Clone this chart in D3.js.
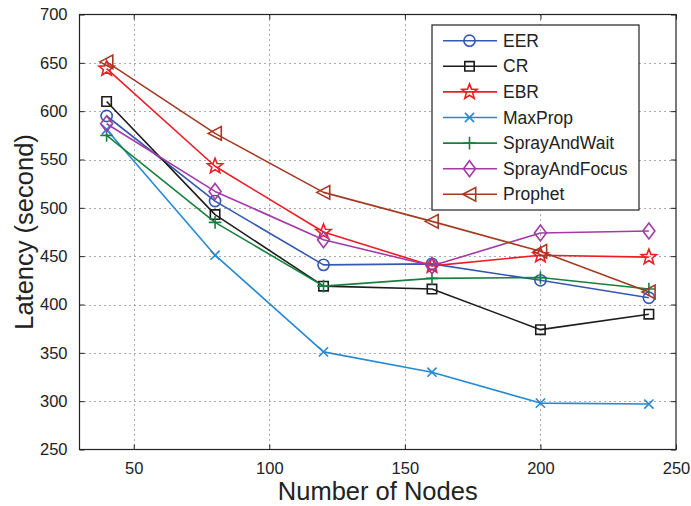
<!DOCTYPE html>
<html>
<head>
<meta charset="utf-8">
<script src="https://cdn.jsdelivr.net/npm/d3@7"></script>
<style>
  html, body { margin: 0; padding: 0; background: #fff; }
  svg { display: block; font-family: "Liberation Sans", Arial, Helvetica, sans-serif; }
</style>
</head>
<body>
<svg id="chart" width="691" height="506"></svg>
<script>
// Latency vs. number of nodes for each routing protocol
const nodes = [40, 80, 120, 160, 200, 240];

const eer           = [595, 507, 441, 442, 425, 407];
const cr            = [610, 493, 419, 416, 374, 390];
const ebr           = [644, 543, 475, 440, 451, 449];
const maxProp       = [581, 451, 351, 330, 298, 297];
const sprayAndWait  = [575, 485, 419, 427, 428, 416];
const sprayAndFocus = [587, 517, 467, 440, 474, 476];
const prophet       = [651, 577, 516, 486, 455, 413];

const xTicks = [50, 100, 150, 200, 250];
const yTicks = [250, 300, 350, 400, 450, 500, 550, 600, 650, 700];

const series = [
  { name: "EER",           values: eer,           color: "#3558b0", marker: "circle" },
  { name: "CR",            values: cr,            color: "#1c1c1c", marker: "square" },
  { name: "EBR",           values: ebr,           color: "#ee1d25", marker: "star" },
  { name: "MaxProp",       values: maxProp,       color: "#2689d2", marker: "times" },
  { name: "SprayAndWait",  values: sprayAndWait,  color: "#17803c", marker: "plus" },
  { name: "SprayAndFocus", values: sprayAndFocus, color: "#a43aa6", marker: "diamond" },
  { name: "Prophet",       values: prophet,       color: "#a33b22", marker: "triangleLeft" }
];

const svg = d3.select("#chart");
const plotL = 79.5, plotR = 676, plotT = 14.5, plotB = 449.5;

const x = d3.scaleLinear().domain([30, 250]).range([plotL, plotR]);
const y = d3.scaleLinear().domain([250, 700]).range([plotB, plotT]);

// dotted grid
const grid = svg.append("g").attr("stroke", "#555").attr("stroke-width", 1)
  .attr("stroke-dasharray", "1,4");
xTicks.filter(t => t > 30 && t < 250).forEach(t => {
  grid.append("line").attr("x1", Math.round(x(t)) + 0.5).attr("x2", Math.round(x(t)) + 0.5)
    .attr("y1", plotT).attr("y2", plotB);
});
yTicks.filter(t => t > 250 && t < 700).forEach(t => {
  grid.append("line").attr("y1", Math.round(y(t)) + 0.5).attr("y2", Math.round(y(t)) + 0.5)
    .attr("x1", plotL).attr("x2", plotR);
});

// axes with inward ticks on all four sides
const tickLen = 5;
const xAxisB = d3.axisBottom(x).tickValues(xTicks).tickSizeInner(-tickLen).tickSizeOuter(0).tickPadding(13);
const xAxisT = d3.axisTop(x).tickValues(xTicks).tickSizeInner(-tickLen).tickSizeOuter(0).tickFormat("");
const yAxisL = d3.axisLeft(y).tickValues(yTicks).tickSizeInner(-tickLen).tickSizeOuter(0).tickPadding(12);
const yAxisR = d3.axisRight(y).tickValues(yTicks).tickSizeInner(-tickLen).tickSizeOuter(0).tickFormat("");

function styleAxis(g) {
  g.select(".domain").remove();
  g.selectAll("line").attr("stroke", "#222");
  g.selectAll("text").attr("fill", "#222").attr("font-size", "16.5px")
    .attr("font-family", "Liberation Sans, Arial, sans-serif");
}
svg.append("g").attr("transform", `translate(0,${plotB})`).call(xAxisB).call(styleAxis);
svg.append("g").attr("transform", `translate(0,${plotT})`).call(xAxisT).call(styleAxis);
svg.append("g").attr("transform", `translate(${plotL},0)`).call(yAxisL).call(styleAxis);
svg.append("g").attr("transform", `translate(${plotR},0)`).call(yAxisR).call(styleAxis);

// frame
svg.append("rect").attr("x", plotL).attr("y", plotT).attr("width", plotR - plotL).attr("height", plotB - plotT)
  .attr("fill", "none").attr("stroke", "#222").attr("stroke-width", 1.2);

// axis titles
svg.append("text").attr("x", (plotL + plotR) / 2).attr("y", 500).attr("text-anchor", "middle")
  .attr("font-size", "25.5px").attr("fill", "#222").text("Number of Nodes");
svg.append("text").attr("transform", `translate(33,${(plotT + plotB) / 2}) rotate(-90)`)
  .attr("text-anchor", "middle").attr("font-size", "25.5px").attr("fill", "#222").text("Latency (second)");

// marker shapes
function starPath(ro, ri) {
  let p = "";
  for (let i = 0; i < 10; i++) {
    const r = i % 2 === 0 ? ro : ri;
    const a = -Math.PI / 2 + i * Math.PI / 5;
    p += (i === 0 ? "M" : "L") + (r * Math.cos(a)).toFixed(2) + "," + (r * Math.sin(a)).toFixed(2);
  }
  return p + "Z";
}
const markerPaths = {
  circle: "M5.6,0A5.6,5.6 0 1,1 -5.6,0A5.6,5.6 0 1,1 5.6,0Z",
  square: "M-4.7,-4.7H4.7V4.7H-4.7Z",
  star: starPath(8, 3.4),
  times: "M-4.6,-4.6L4.6,4.6M-4.6,4.6L4.6,-4.6",
  plus: "M-6.3,0H6.3M0,-6.3V6.3",
  diamond: "M0,-8L6,0L0,8L-6,0Z",
  triangleLeft: "M-6.8,0L6.2,-6.8L6.2,6.8Z"
};
function drawMarker(g, kind, cx, cy, color) {
  g.append("path").attr("d", markerPaths[kind]).attr("transform", `translate(${cx},${cy})`)
    .attr("fill", "none").attr("stroke", color).attr("stroke-width", 1.6);
}

// series lines and markers
const line = d3.line().x((d, i) => x(nodes[i])).y(d => y(d));
series.forEach(s => {
  const g = svg.append("g");
  g.append("path").datum(s.values).attr("d", line).attr("fill", "none")
    .attr("stroke", s.color).attr("stroke-width", 1.6).attr("stroke-linejoin", "round");
  s.values.forEach((v, i) => drawMarker(g, s.marker, x(nodes[i]), y(v), s.color));
});

// legend
const lg = svg.append("g");
lg.append("rect").attr("x", 432).attr("y", 25).attr("width", 207).attr("height", 185)
  .attr("fill", "#fff").attr("stroke", "#222").attr("stroke-width", 1.2);
series.forEach((s, i) => {
  const ly = 40.7 + i * 25.6;
  lg.append("line").attr("x1", 443).attr("x2", 497).attr("y1", ly).attr("y2", ly)
    .attr("stroke", s.color).attr("stroke-width", 1.6);
  drawMarker(lg, s.marker, 469.5, ly, s.color);
  lg.append("text").attr("x", 503).attr("y", ly).attr("dy", "0.35em")
    .attr("font-size", "17.5px").attr("fill", "#222").text(s.name);
});
</script>
</body>
</html>
